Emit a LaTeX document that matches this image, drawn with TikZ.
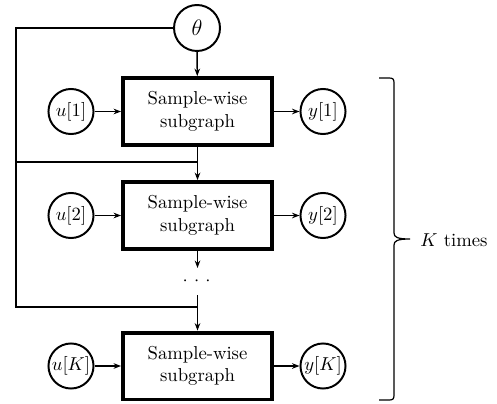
\documentclass[tikz,border=0pt]{standalone}
\usetikzlibrary{arrows.meta}
\begin{document}
\begin{tikzpicture}[x=0.535pt,y=-0.535pt,
  subbox/.style={draw,line width=2.1pt,minimum width=79.7pt,minimum height=35.8pt,align=center,inner sep=0pt},
  var/.style={draw,circle,line width=1.05pt,minimum size=24.1pt,inner sep=0pt},
  conn/.style={line width=0.8pt},
  arr/.style={conn,-{Stealth[length=4pt,width=3pt]}},
  bracestyle/.style={line width=0.65pt}]
\useasboundingbox (0,0) rectangle (497,403);
\node[var,minimum size=24.6pt] (th) at (197,28) {\large$\theta$};
\node[subbox] (b1) at (197.5,111.5) {Sample-wise\\subgraph};
\node[subbox] (b2) at (197.5,215.5) {Sample-wise\\subgraph};
\node[subbox] (b3) at (197.5,366) {Sample-wise\\subgraph};
\node[var] (u1) at (71,111.5) {$u[1]$};
\node[var] (u2) at (71,215.5) {$u[2]$};
\node[var] (uK) at (71,366) {$u[K]$};
\node[var] (y1) at (323,111.5) {$y[1]$};
\node[var] (y2) at (323,215.5) {$y[2]$};
\node[var] (yK) at (323,366) {$y[K]$};
\node[inner sep=0pt] (dots) at (196.7,281.7) {${\cdot}\hspace{3.3pt}{\cdot}\hspace{3.3pt}{\cdot}$};
\coordinate (c0) at (16,28);
\coordinate (c1) at (16,162);
\coordinate (c2) at (16,307);
\coordinate (m1) at (197.5,162);
\coordinate (m2) at (197.5,307);
\coordinate (d1) at (197.5,268);
\coordinate (d2) at (197.5,295);
\draw[conn] (th.west) -- (c0) -- (c2) -- (m2);
\draw[conn] (c1) -- (m1);
\draw[arr] (th) -- (b1);
\draw[arr] (b1) -- (b2);
\draw[arr] (b2) -- (d1);
\draw[arr] (d2) -- (b3);
\draw[arr] (u1) -- (b1);
\draw[arr] (u2) -- (b2);
\draw[arr] (uK) -- (b3);
\draw[arr] (b1) -- (y1);
\draw[arr] (b2) -- (y2);
\draw[arr] (b3) -- (yK);
\coordinate (bt) at (379,78);
\coordinate (bb) at (379,400);
\coordinate (tip) at (410,239);
\draw[bracestyle] (bt) -- (389,78) .. controls (393,78) and (394,79) .. (394,83) -- (394,233)
  .. controls (394,237) and (397,239) .. (tip)
  .. controls (397,239) and (394,241) .. (394,245) -- (394,395)
  .. controls (394,399) and (393,400) .. (389,400) -- (bb);
\node[anchor=west,inner sep=0pt] (kt) at (420,240) {$K$ times};
\end{tikzpicture}
\end{document}
